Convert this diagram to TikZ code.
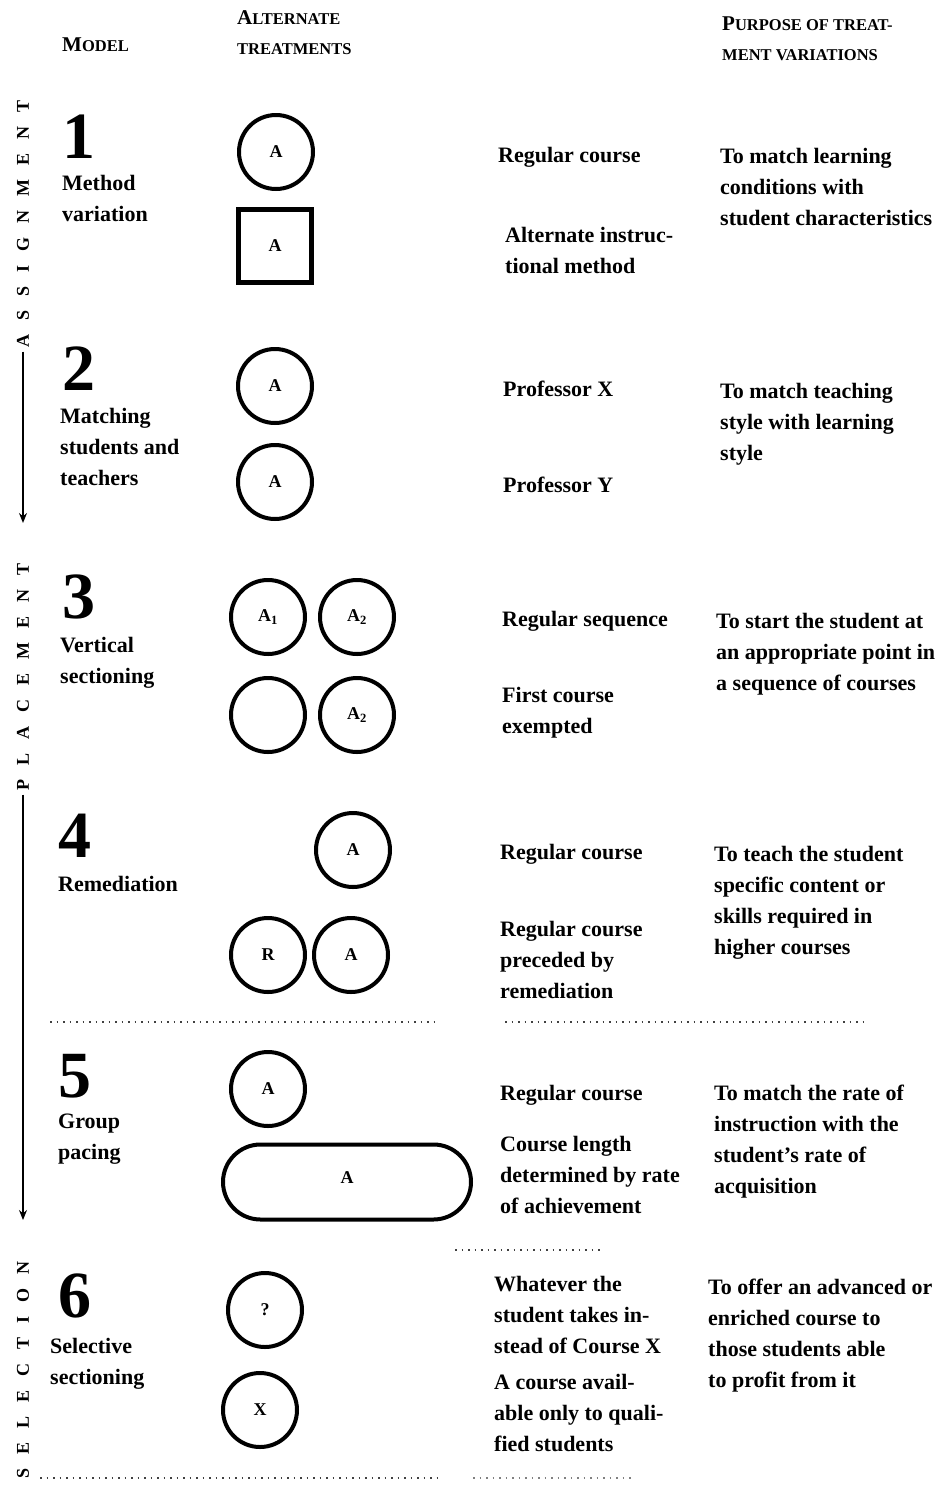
\documentclass[tikz,border=0pt]{standalone}
\usepackage{fontspec}
\setmainfont{Liberation Serif}
\usetikzlibrary{arrows.meta,shapes.misc}
\newcommand\Sc[2]{{\fontsize{21}{21}\selectfont #1}#2}
\newcommand\ls{\hspace{14pt}}
\newcommand\B{\rule{0pt}{16pt}}
\newcommand\Bh{\rule{0pt}{14pt}}
\tikzset{
  body/.style={font=\fontsize{22}{31}\selectfont\bfseries, inner sep=0pt, align=left, anchor=north west},
  hdr/.style={font=\fontsize{16.5}{30.5}\selectfont\bfseries, inner sep=0pt, align=left, anchor=north west},
  bignum/.style={font=\fontsize{66}{66}\selectfont\bfseries, inner sep=0pt, anchor=base west},
  circ/.style={circle, draw, line width=4pt, minimum size=74pt, inner sep=0pt, font=\fontsize{18}{18}\selectfont\bfseries},
  sqr/.style={rectangle, draw, line width=4.5pt, minimum size=73pt, inner sep=0pt, font=\fontsize{18}{18}\selectfont\bfseries},
  stad/.style={rounded rectangle, draw, line width=4pt, minimum width=248pt, minimum height=75pt, inner sep=0pt, font=\fontsize{18}{18}\selectfont\bfseries},
  vlab/.style={rotate=90, inner sep=0pt, font=\fontsize{18}{18}\selectfont\bfseries},
  arr/.style={line width=2.2pt, -{Stealth[length=10pt,width=8pt]}},
  dotl/.style={line width=1.3pt, black!75, dash pattern=on 1.5pt off 5pt}
}
\begin{document}
\begin{tikzpicture}[x=1pt,y=-1pt]
\useasboundingbox (0,0) rectangle (952,1489);
% headers
\node[hdr, anchor=base west] (hModel) at (62,51) {\Sc{M}{ODEL}};
\node[hdr] (hAlt) at (237,10) {\Bh\Sc{A}{LTERNATE}\\TREATMENTS};
\node[hdr] (hPur) at (722,16) {\Bh\Sc{P}{URPOSE OF TREAT-}\\MENT VARIATIONS};

% side labels
\node[vlab] (vA) at (23,224) {A\ls S\ls S\ls I\ls G\ls N\ls M\ls E\ls N\ls T};
\coordinate (aA) at (23,523);
\draw[arr, shorten <=4pt] (vA.west) -- (aA);
\node[vlab] (vP) at (23,677) {P\ls L\ls A\ls C\ls E\ls M\ls E\ls N\ls T};
\coordinate (aP) at (23,1220);
\draw[arr, shorten <=4pt] (vP.west) -- (aP);
\node[vlab] (vS) at (23,1370) {S\ls E\ls L\ls E\ls C\ls T\ls I\ls O\ls N};

% model 1
\node[bignum] (n1) at (62,158) {1};
\node[body] (l1) at (62,174) {\B Method\\variation};
\node[circ] (c1a) at (276,152) {A};
\node[sqr] (s1b) at (275,246) {A};
\node[body] (t1a) at (498,146) {\B Regular course};
\node[body] (t1b) at (505,226) {\B Alternate instruc-\\tional method};
\node[body] (p1) at (720,147) {\B To match learning\\conditions with\\student characteristics};

% model 2
\node[bignum] (n2) at (62,390) {2};
\node[body] (l2) at (60,407) {\B Matching\\students and\\teachers};
\node[circ] (c2a) at (275,386) {A};
\node[circ] (c2b) at (275,482) {A};
\node[body] (t2a) at (503,380) {\B Professor X};
\node[body] (t2b) at (503,476) {\B Professor Y};
\node[body] (p2) at (720,382) {\B To match teaching\\style with learning\\style};

% model 3
\node[bignum] (n3) at (62,618) {3};
\node[body] (l3) at (60,636) {\B Vertical\\sectioning};
\node[circ] (c3a) at (268,617) {A\textsubscript{1}};
\node[circ] (c3b) at (357,617) {A\textsubscript{2}};
\node[circ] (c3c) at (268,715) {};
\node[circ] (c3d) at (357,715) {A\textsubscript{2}};
\node[body] (t3a) at (502,610) {\B Regular sequence};
\node[body] (t3b) at (502,686) {\B First course\\exempted};
\node[body] (p3) at (716,612) {\B To start the student at\\an appropriate point in\\a sequence of courses};

% model 4
\node[bignum] (n4) at (58,857) {4};
\node[body] (l4) at (58,875) {\B Remediation};
\node[circ] (c4a) at (353,850) {A};
\node[circ] (c4b) at (268,955) {R};
\node[circ] (c4c) at (351,955) {A};
\node[body] (t4a) at (500,843) {\B Regular course};
\node[body] (t4b) at (500,920) {\B Regular course\\preceded by\\remediation};
\node[body] (p4) at (714,845) {\B To teach the student\\specific content or\\skills required in\\higher courses};

\coordinate (d1a) at (50,1022); \coordinate (d1b) at (440,1022);
\coordinate (d1c) at (505,1022); \coordinate (d1d) at (865,1022);
\draw[dotl] (d1a) -- (d1b);
\draw[dotl] (d1c) -- (d1d);

% model 5
\node[bignum] (n5) at (58,1097) {5};
\node[body] (l5) at (58,1112) {\B Group\\pacing};
\node[circ] (c5a) at (268,1089) {A};
\node[stad] (s5b) at (347,1182) {\raisebox{8pt}{A}};
\node[body] (t5a) at (500,1084) {\B Regular course};
\node[body] (t5b) at (500,1135) {\B Course length\\determined by rate\\of achievement};
\node[body] (p5) at (714,1084) {\B To match the rate of\\instruction with the\\student's rate of\\acquisition};

\coordinate (d2a) at (455,1250); \coordinate (d2b) at (600,1250);
\draw[dotl] (d2a) -- (d2b);

% model 6
\node[bignum] (n6) at (58,1317) {6};
\node[body] (l6) at (50,1337) {\B Selective\\sectioning};
\node[circ] (c6a) at (265,1310) {?};
\node[circ] (c6b) at (260,1410) {X};
\node[body] (t6a) at (494,1275) {\B Whatever the\\student takes in-\\stead of Course X};
\node[body] (t6b) at (494,1373) {\B A course avail-\\able only to quali-\\fied students};
\node[body] (p6) at (708,1278) {\B To offer an advanced or\\enriched course to\\those students able\\to profit from it};

\coordinate (d3a) at (40,1478); \coordinate (d3b) at (440,1478);
\coordinate (d3c) at (473,1478); \coordinate (d3d) at (635,1478);
\draw[dotl] (d3a) -- (d3b);
\draw[dotl, black!50] (d3c) -- (d3d);
\end{tikzpicture}
\end{document}
